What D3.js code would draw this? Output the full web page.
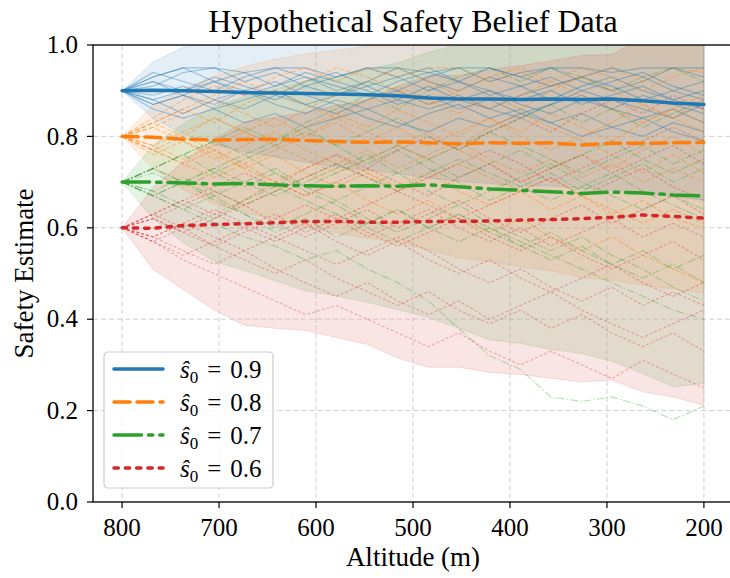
<!DOCTYPE html>
<html>
<head>
<meta charset="utf-8">
<script src="https://cdn.jsdelivr.net/npm/d3@7"></script>
<style>
  body { margin: 0; background: #fff; }
  svg { display: block; font-family: "Liberation Serif", "DejaVu Serif", serif; }
</style>
</head>
<body>
<svg id="chart" width="730" height="578"></svg>
<script>
// altitudes (m), 20 samples from 800 down to 200
var altitudes = [800, 768, 737, 705, 674, 642, 611, 579, 547, 516, 484, 453, 421, 389, 358, 326, 295, 263, 232, 200];

var xTicks = [800, 700, 600, 500, 400, 300, 200];
var yTicks = [0.0, 0.2, 0.4, 0.6, 0.8, 1.0];
var labels = ["0.9", "0.8", "0.7", "0.6"];

// mean lines
var mean09 = [0.900, 0.901, 0.900, 0.898, 0.896, 0.895, 0.894, 0.893, 0.891, 0.889, 0.884, 0.882, 0.882, 0.881, 0.882, 0.881, 0.882, 0.878, 0.873, 0.870];
var mean08 = [0.800, 0.798, 0.794, 0.792, 0.793, 0.794, 0.791, 0.789, 0.787, 0.788, 0.786, 0.784, 0.786, 0.785, 0.786, 0.781, 0.785, 0.785, 0.786, 0.787];
var mean07 = [0.700, 0.700, 0.698, 0.696, 0.697, 0.694, 0.692, 0.691, 0.692, 0.691, 0.694, 0.690, 0.685, 0.682, 0.679, 0.675, 0.678, 0.676, 0.672, 0.670];
var mean06 = [0.600, 0.599, 0.605, 0.607, 0.609, 0.611, 0.614, 0.614, 0.612, 0.612, 0.614, 0.614, 0.615, 0.617, 0.618, 0.620, 0.623, 0.628, 0.625, 0.621];

// shaded band bounds
var lo09 = [0.900, 0.839, 0.805, 0.783, 0.766, 0.755, 0.744, 0.733, 0.726, 0.719, 0.709, 0.702, 0.697, 0.691, 0.692, 0.686, 0.682, 0.678, 0.668, 0.660];
var hi09 = [0.900, 0.963, 0.995, 1.013, 1.026, 1.035, 1.044, 1.053, 1.056, 1.059, 1.059, 1.062, 1.067, 1.071, 1.072, 1.076, 1.082, 1.078, 1.078, 1.080];
var lo08 = [0.800, 0.728, 0.684, 0.652, 0.633, 0.619, 0.601, 0.589, 0.577, 0.568, 0.551, 0.534, 0.526, 0.515, 0.506, 0.491, 0.485, 0.475, 0.466, 0.457];
var hi08 = [0.800, 0.868, 0.904, 0.932, 0.953, 0.969, 0.981, 0.989, 0.997, 1.008, 1.021, 1.034, 1.046, 1.055, 1.066, 1.071, 1.085, 1.095, 1.106, 1.117];
var lo07 = [0.700, 0.620, 0.568, 0.526, 0.507, 0.484, 0.462, 0.451, 0.437, 0.421, 0.404, 0.380, 0.355, 0.347, 0.334, 0.325, 0.308, 0.281, 0.252, 0.260];
var hi07 = [0.700, 0.780, 0.828, 0.866, 0.887, 0.904, 0.922, 0.931, 0.947, 0.961, 0.984, 1.000, 1.015, 1.017, 1.024, 1.025, 1.048, 1.071, 1.092, 1.080];
var lo06 = [0.600, 0.509, 0.465, 0.420, 0.387, 0.380, 0.376, 0.360, 0.345, 0.315, 0.295, 0.295, 0.284, 0.279, 0.271, 0.263, 0.267, 0.241, 0.230, 0.212];
var hi06 = [0.600, 0.689, 0.745, 0.794, 0.831, 0.842, 0.852, 0.868, 0.879, 0.909, 0.933, 0.933, 0.946, 0.955, 0.965, 0.977, 0.979, 1.015, 1.020, 1.030];

// a few individual belief runs per start value
var runs09 = [
  [.90,.93,.95,.95,.94,.95,.95,.93,.95,.95,.94,.95,.95,.93,.95,.95,.94,.95,.95,.95],
  [.90,.87,.89,.86,.88,.90,.87,.89,.91,.88,.86,.88,.90,.87,.85,.88,.86,.89,.87,.85],
  [.90,.92,.90,.93,.91,.89,.92,.94,.91,.93,.90,.92,.89,.91,.93,.90,.92,.94,.91,.89],
  [.90,.86,.84,.86,.83,.85,.82,.84,.86,.83,.81,.84,.82,.85,.83,.80,.82,.84,.81,.79],
  [.90,.94,.92,.90,.93,.95,.93,.91,.89,.92,.94,.92,.95,.93,.91,.93,.95,.93,.90,.92],
  [.90,.89,.91,.88,.86,.89,.87,.85,.88,.90,.87,.89,.86,.84,.87,.89,.86,.84,.86,.83],
  [.90,.93,.95,.92,.90,.88,.91,.93,.95,.93,.95,.92,.90,.88,.90,.87,.89,.91,.88,.90],
  [.90,.88,.85,.88,.90,.92,.89,.87,.84,.82,.85,.87,.84,.86,.83,.85,.82,.80,.83,.81],
  [.90,.91,.94,.95,.92,.94,.91,.89,.92,.90,.93,.95,.92,.94,.95,.92,.90,.92,.95,.93],
  [.90,.87,.89,.92,.94,.91,.93,.90,.92,.95,.92,.90,.93,.91,.88,.91,.93,.90,.88,.86],
  [.90,.92,.89,.87,.90,.87,.85,.88,.86,.88,.91,.88,.86,.89,.91,.93,.91,.88,.90,.88],
  [.90,.88,.90,.92,.89,.91,.94,.92,.90,.87,.89,.86,.88,.85,.87,.90,.88,.86,.84,.87]
];
var runs08 = [
  [.80,.84,.88,.91,.89,.93,.95,.92,.95,.93,.95,.95,.92,.94,.91,.93,.95,.92,.95,.94],
  [.80,.77,.74,.71,.74,.70,.67,.70,.66,.63,.66,.62,.59,.62,.58,.55,.58,.54,.51,.48],
  [.80,.83,.80,.84,.81,.78,.82,.85,.82,.86,.83,.80,.84,.81,.85,.82,.79,.83,.86,.83],
  [.80,.76,.79,.75,.78,.81,.77,.74,.77,.73,.76,.79,.75,.72,.75,.71,.74,.70,.73,.70],
  [.80,.83,.86,.83,.87,.90,.87,.84,.88,.91,.88,.85,.89,.86,.90,.93,.90,.87,.84,.88],
  [.80,.78,.75,.78,.81,.78,.75,.72,.75,.78,.81,.77,.74,.70,.73,.76,.73,.77,.80,.76],
  [.80,.82,.79,.76,.73,.76,.72,.69,.72,.68,.71,.74,.71,.68,.64,.67,.63,.66,.62,.60],
  [.80,.82,.85,.88,.85,.82,.86,.89,.92,.95,.92,.89,.86,.89,.92,.89,.86,.83,.86,.89],
  [.80,.78,.81,.84,.81,.84,.80,.83,.79,.82,.78,.81,.84,.80,.77,.80,.83,.87,.84,.81],
  [.80,.77,.80,.77,.74,.77,.80,.84,.81,.78,.75,.78,.82,.85,.82,.79,.76,.72,.76,.72],
  [.80,.83,.86,.89,.92,.89,.92,.95,.93,.90,.87,.90,.93,.95,.92,.95,.93,.90,.93,.95],
  [.80,.77,.74,.77,.73,.70,.73,.76,.72,.69,.72,.68,.65,.68,.71,.67,.64,.61,.64,.61]
];
var runs07 = [
  [.70,.73,.76,.79,.82,.79,.83,.86,.89,.86,.90,.93,.95,.92,.95,.93,.90,.93,.95,.92],
  [.70,.67,.64,.61,.58,.56,.53,.55,.51,.48,.44,.38,.32,.29,.23,.22,.23,.21,.18,.21],
  [.70,.73,.70,.67,.70,.73,.69,.66,.69,.72,.68,.65,.68,.71,.74,.70,.67,.64,.67,.64],
  [.70,.67,.70,.73,.76,.72,.69,.72,.75,.78,.75,.71,.74,.77,.73,.76,.79,.75,.72,.75],
  [.70,.73,.76,.72,.69,.72,.68,.65,.61,.64,.60,.57,.60,.56,.53,.56,.52,.49,.52,.48],
  [.70,.67,.64,.67,.63,.60,.63,.66,.62,.59,.62,.65,.61,.58,.55,.58,.54,.51,.47,.44],
  [.70,.73,.76,.79,.76,.79,.82,.78,.81,.84,.80,.77,.81,.84,.87,.83,.86,.82,.85,.88],
  [.70,.68,.71,.68,.65,.68,.71,.74,.71,.68,.72,.75,.72,.69,.66,.69,.72,.68,.65,.62],
  [.70,.72,.69,.72,.75,.78,.81,.78,.74,.77,.73,.70,.66,.69,.72,.68,.71,.74,.70,.73],
  [.70,.67,.70,.66,.63,.59,.62,.58,.61,.64,.60,.63,.59,.56,.59,.55,.52,.55,.51,.54],
  [.70,.73,.70,.73,.70,.67,.70,.73,.76,.72,.75,.78,.81,.78,.75,.72,.75,.78,.74,.77],
  [.70,.68,.65,.62,.66,.69,.66,.63,.60,.57,.60,.63,.60,.57,.54,.51,.48,.45,.42,.40]
];
var runs06 = [
  [.60,.63,.66,.69,.72,.69,.73,.76,.73,.77,.80,.77,.81,.84,.81,.85,.88,.85,.89,.86],
  [.60,.57,.53,.50,.47,.44,.41,.43,.40,.37,.34,.37,.33,.30,.33,.30,.27,.31,.28,.25],
  [.60,.62,.59,.62,.65,.61,.58,.61,.64,.60,.63,.66,.62,.59,.62,.65,.61,.64,.67,.63],
  [.60,.58,.61,.58,.55,.58,.61,.57,.54,.57,.53,.50,.53,.49,.46,.49,.52,.48,.45,.48],
  [.60,.63,.60,.63,.66,.70,.67,.70,.73,.70,.67,.71,.74,.70,.73,.76,.72,.75,.78,.74],
  [.60,.57,.60,.56,.53,.50,.53,.49,.46,.43,.46,.42,.39,.42,.38,.41,.37,.34,.37,.33],
  [.60,.63,.66,.63,.60,.63,.59,.62,.65,.68,.65,.62,.65,.68,.71,.67,.70,.73,.69,.66],
  [.60,.57,.54,.57,.60,.57,.60,.63,.59,.56,.59,.62,.58,.55,.58,.54,.51,.54,.57,.53],
  [.60,.62,.65,.68,.65,.68,.71,.74,.71,.68,.71,.74,.77,.74,.70,.73,.76,.79,.82,.79],
  [.60,.58,.55,.52,.55,.51,.48,.45,.48,.44,.41,.44,.40,.43,.46,.42,.39,.36,.39,.42],
  [.60,.62,.59,.56,.59,.62,.65,.62,.58,.61,.64,.60,.57,.60,.56,.59,.62,.58,.61,.58],
  [.60,.58,.61,.64,.61,.58,.55,.52,.55,.58,.55,.51,.48,.51,.47,.44,.47,.43,.46,.43]
];

var svg = d3.select("#chart");
var pL = 93, pR = 733, pT = 45, pB = 502;

var x = d3.scaleLinear().domain([830, 170]).range([pL, pR]);
var y = d3.scaleLinear().domain([0, 1]).range([pB, pT]);

var series = [
  { label: labels[0], color: "#1f77b4", mean: mean09, lo: lo09, hi: hi09, runs: runs09, dash: null, thin: null, alpha: 0.4 },
  { label: labels[1], color: "#ff7f0e", mean: mean08, lo: lo08, hi: hi08, runs: runs08, dash: "16,7", thin: "5,2", alpha: 0.4 },
  { label: labels[2], color: "#2ca02c", mean: mean07, lo: lo07, hi: hi07, runs: runs07, dash: "27.5,7,4.3,7", thin: "8,2,1.5,2", alpha: 0.35 },
  { label: labels[3], color: "#d62728", mean: mean06, lo: lo06, hi: hi06, runs: runs06, dash: "4.3,7", thin: "3,2", alpha: 0.35 }
];

svg.append("clipPath").attr("id", "plotClip")
  .append("rect")
  .attr("x", pL).attr("y", pT)
  .attr("width", pR - pL).attr("height", pB - pT);

var plot = svg.append("g").attr("clip-path", "url(#plotClip)");
var bands = plot.append("g");
var grid = plot.append("g");
var lines = plot.append("g");

var area = d3.area()
  .x(function (d, i) { return x(altitudes[i]); })
  .y0(function (d) { return y(d[0]); })
  .y1(function (d) { return y(d[1]); });

var line = d3.line()
  .x(function (d, i) { return x(altitudes[i]); })
  .y(function (d) { return y(d); });

//bands + runs per series
series.forEach(function (s) {
  var pairs = s.lo.map(function (v, i) { return [v, s.hi[i]]; });
  bands.append("path")
    .attr("d", area(pairs))
    .attr("fill", s.color)
    .attr("fill-opacity", 0.12)
    .attr("stroke", s.color)
    .attr("stroke-opacity", 0.15)
    .attr("stroke-width", 1);

  s.runs.forEach(function (r) {
    lines.append("path")
      .attr("d", line(r))
      .attr("fill", "none")
      .attr("stroke", s.color)
      .attr("stroke-opacity", s.alpha)
      .attr("stroke-width", 1.1)
      .attr("stroke-dasharray", s.thin);
  });
});

//grid
grid.selectAll(".gx").data(xTicks).enter().append("line")
  .attr("x1", function (d) { return x(d); }).attr("x2", function (d) { return x(d); })
  .attr("y1", pT).attr("y2", pB)
  .attr("stroke", "#b0b0b0").attr("stroke-opacity", 0.6)
  .attr("stroke-dasharray", "5,3");
grid.selectAll(".gy").data(yTicks).enter().append("line")
  .attr("x1", pL).attr("x2", pR)
  .attr("y1", function (d) { return y(d); }).attr("y2", function (d) { return y(d); })
  .attr("stroke", "#b0b0b0").attr("stroke-opacity", 0.6)
  .attr("stroke-dasharray", "5,3");

//mean lines on top
series.forEach(function (s) {
  plot.append("path")
    .attr("d", line(s.mean))
    .attr("fill", "none")
    .attr("stroke", s.color)
    .attr("stroke-width", 3.5)
    .attr("stroke-linecap", "round")
    .attr("stroke-linejoin", "round")
    .attr("stroke-dasharray", s.dash);
});

//frame
svg.append("rect")
  .attr("x", pL).attr("y", pT)
  .attr("width", pR - pL).attr("height", pB - pT)
  .attr("fill", "none").attr("stroke", "#000").attr("stroke-width", 1.3);

//axes
var xAxis = svg.append("g").attr("transform", "translate(0," + pB + ")");
xAxis.selectAll("line").data(xTicks).enter().append("line")
  .attr("x1", function (d) { return x(d); }).attr("x2", function (d) { return x(d); })
  .attr("y1", 0).attr("y2", 6)
  .attr("stroke", "#000").attr("stroke-width", 1.2);
xAxis.selectAll("text").data(xTicks).enter().append("text")
  .attr("x", function (d) { return x(d); })
  .attr("y", 34)
  .attr("text-anchor", "middle")
  .style("font-size", "25px")
  .text(function (d) { return d; });

var yAxis = svg.append("g").attr("transform", "translate(" + pL + ",0)");
yAxis.selectAll("line").data(yTicks).enter().append("line")
  .attr("x1", -6).attr("x2", 0)
  .attr("y1", function (d) { return y(d); }).attr("y2", function (d) { return y(d); })
  .attr("stroke", "#000").attr("stroke-width", 1.2);
yAxis.selectAll("text").data(yTicks).enter().append("text")
  .attr("x", -15)
  .attr("y", function (d) { return y(d); })
  .attr("dy", "0.33em")
  .attr("text-anchor", "end")
  .style("font-size", "25px")
  .text(function (d) { return d.toFixed(1); });

//titles
svg.append("text")
  .attr("x", (pL + pR) / 2).attr("y", 32)
  .attr("text-anchor", "middle")
  .style("font-size", "32px")
  .text("Hypothetical Safety Belief Data");
svg.append("text")
  .attr("x", (pL + pR) / 2).attr("y", 566)
  .attr("text-anchor", "middle")
  .style("font-size", "27px")
  .text("Altitude (m)");
svg.append("text")
  .attr("transform", "translate(33," + ((pT + pB) / 2) + ") rotate(-90)")
  .attr("text-anchor", "middle")
  .style("font-size", "27px")
  .text("Safety Estimate");

//legend
var legend = svg.append("g").attr("transform", "translate(104,352)");
legend.append("rect")
  .attr("width", 169).attr("height", 136)
  .attr("rx", 4)
  .attr("fill", "#fff").attr("fill-opacity", 0.8)
  .attr("stroke", "#cccccc").attr("stroke-width", 1.2);

var rows = legend.selectAll(".row").data(series).enter().append("g")
  .attr("transform", function (d, i) { return "translate(0," + (17 + i * 33) + ")"; });
rows.append("line")
  .attr("x1", 10).attr("x2", 59)
  .attr("stroke", function (d) { return d.color; })
  .attr("stroke-width", 3.5)
  .attr("stroke-linecap", "round")
  .attr("stroke-dasharray", function (d) { return d.dash; });
var lt = rows.append("text")
  .attr("x", 76).attr("y", 9)
  .style("font-size", "25px");
lt.append("tspan").style("font-style", "italic").text("ŝ");
lt.append("tspan").attr("dy", 5).style("font-size", "17px").text("0");
lt.append("tspan").attr("dy", -5).attr("dx", 9).text("=");
lt.append("tspan").attr("dx", 9).text(function (d) { return d.label; });
</script>
</body>
</html>
